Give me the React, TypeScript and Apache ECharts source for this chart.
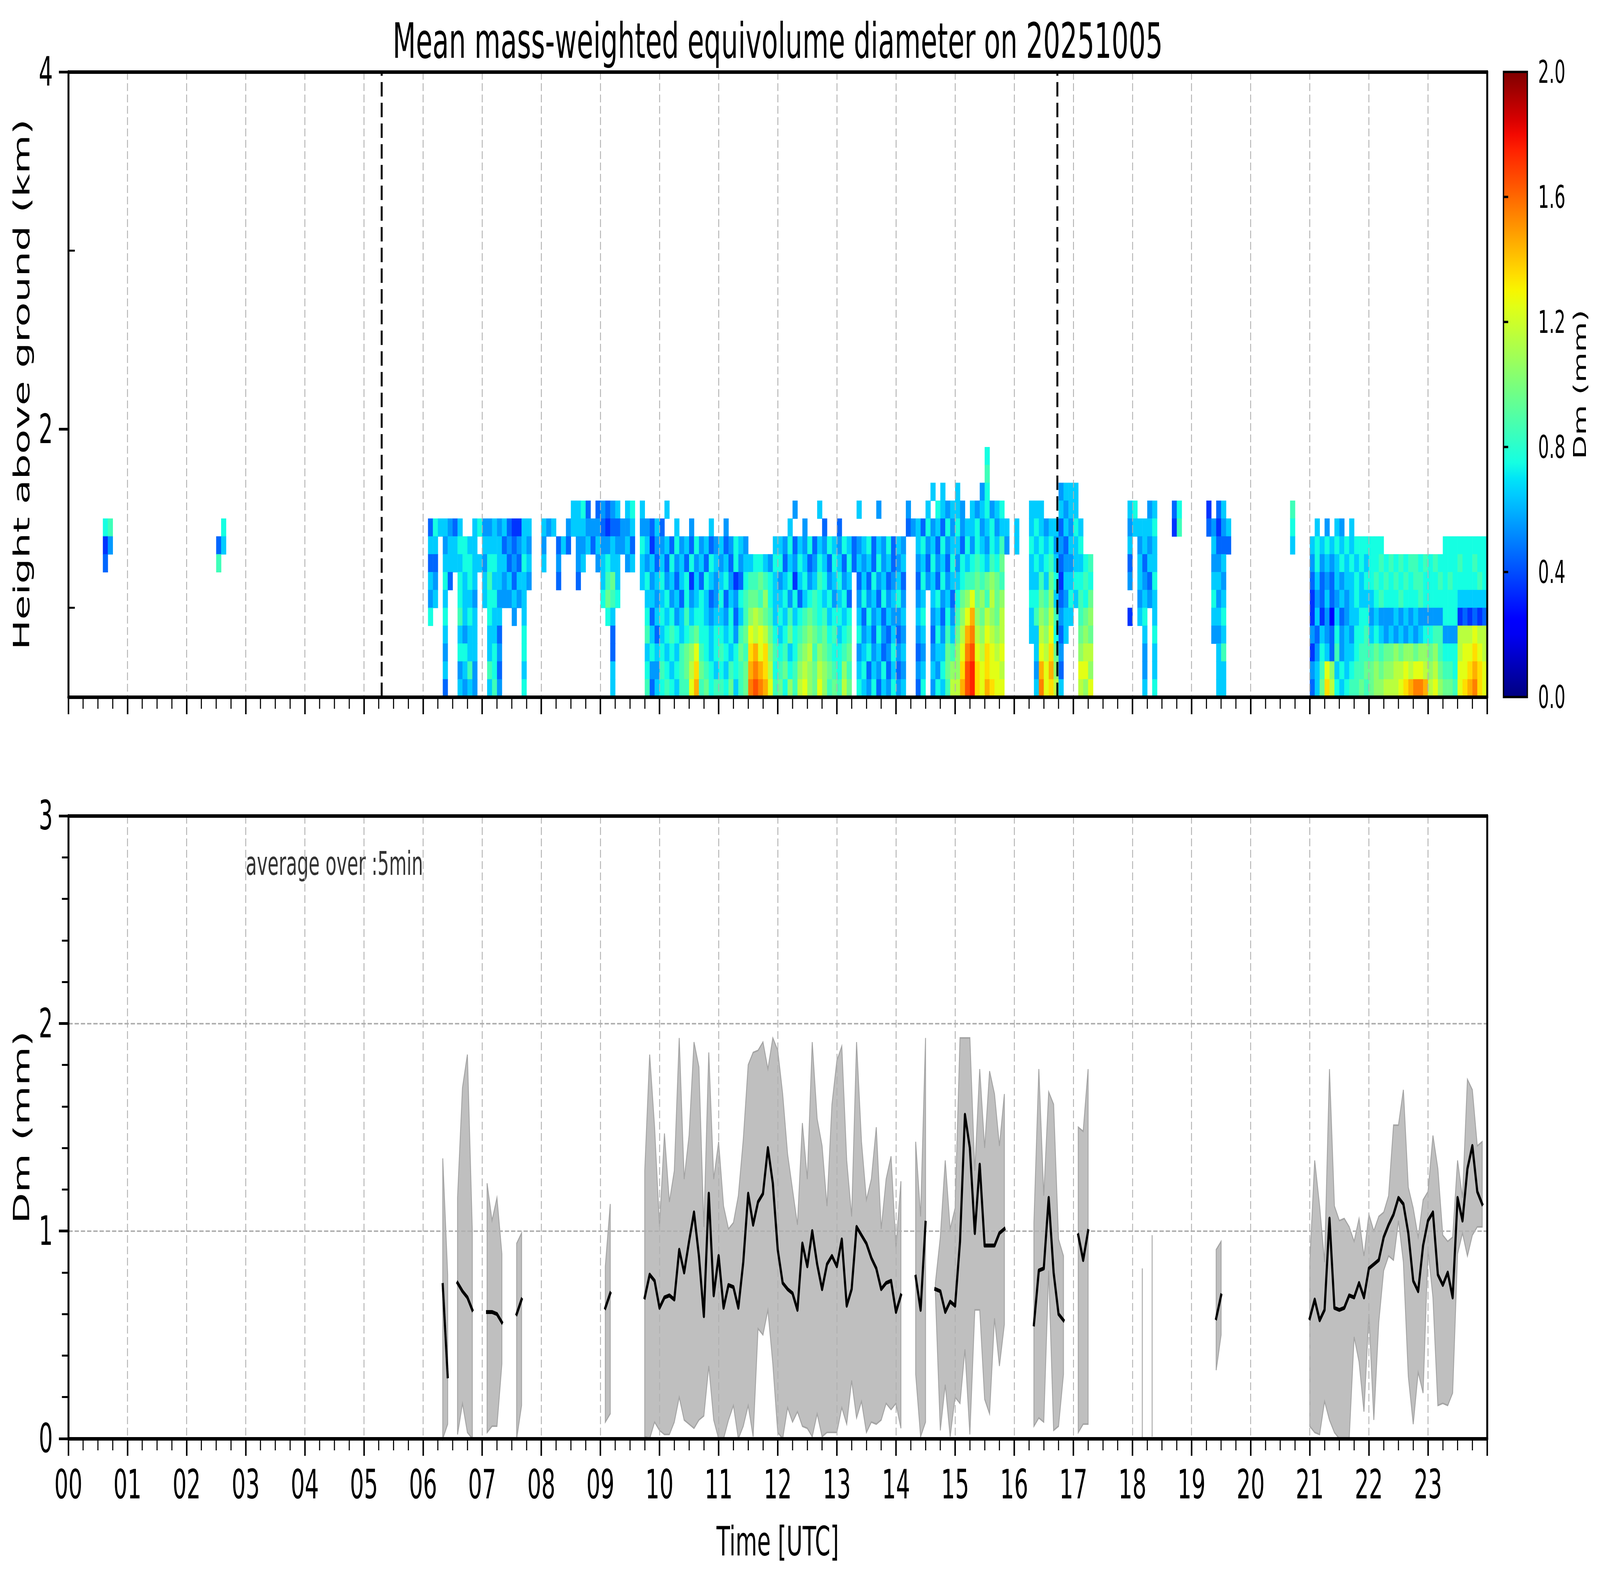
import { useEffect, useRef } from 'react';
import * as echarts from 'echarts';

const FONT = 'DejaVu Sans';

// reference figure size and layout (px); the figure is fitted to the window
const REF_W = 7442;
const REF_H = 4031;
const PLOT_LEFT = 318;
const PLOT_W = 6599;
const TOP_Y = 184;
const TOP_H = 1600;
const BOT_Y = 2088;
const BOT_H = 1594;
const CB_LEFT = 6993;
const CB_W = 111;

const titleText = 'Mean mass-weighted equivolume diameter on 20251005';

// sunrise / sunset markers (hours UTC)
const sunHours = [5.3, 16.73];

// colorbar range (mm)
const cbRange = [0, 2];

// Dm curtain: cells of 5 min x 100 m. Each list gives, for one height bin,
// [hour, 12 cells]. '.' = no data, '1'..'9' = 0.1..0.9 mm bin, 'A'..'J' = 1.0..1.9 mm bin
const heightStep = 0.1;
const timeStep = 5 / 60;

const dmH18 = [[15, '......7.....']];
const dmH17 = [[15, '......8.....']];
const dmH16 = [[14, '.......6.6..'], [15, '6....57.....'], [16, '.........566'], [17, '6...........']];
const dmH15 = [[8, '......6674.4'], [9, '5456.67.6...'], [10, '.6..........'], [12, '...5....6...'], [13, '....6...5...'], [14, '..5...6.7656'], [15, '65.6567567..'], [16, '...666...656'], [17, '6..........6'], [18, '7..56...47..'], [19, '...3.46.....'], [20, '........8...']];
const dmH14 = [[0, '.......78...'], [2, '.......7....'], [6, '.4766546..67'], [7, '5565643366..'], [8, '656..5666555'], [9, '4344556.5546'], [10, '4..6..5...6.'], [11, '.5..........'], [12, '..6..5...4..'], [13, '4...........'], [14, '..4564756475'], [15, '75667567566.'], [16, '6..676566465'], [17, '76.........5'], [18, '66667...38..'], [19, '...45356....'], [20, '........7...'], [21, '.6.5.65.6...']];
const dmH13 = [[0, '.......35...'], [2, '......46....'], [6, '.66.5667766.'], [7, '6666454565..'], [8, '5..464.55646'], [9, '5565564.7635'], [10, '564756475645'], [11, '645765.....6'], [12, '657465746576'], [13, '576456746574'], [14, '65..67564756'], [15, '64757657685.'], [16, '6..767675546'], [17, '67.........6'], [18, '.5656.......'], [19, '....6444....'], [20, '........6...'], [21, '676767676777'], [22, '777.........'], [23, '...777777777']];
const dmH12 = [[0, '.......4....'], [2, '......8.....'], [6, '.44.66667766'], [7, '5776645476..'], [8, '6..5...56..5'], [9, '6766.56.6564'], [10, '647564756476'], [11, '564756677657'], [12, '746576457647'], [13, '647465647564'], [14, '56..56475647'], [15, '5767876879..'], [16, '...676786455'], [17, '6678.......4'], [18, '.6466.......'], [19, '....556.....'], [21, '575656767676'], [22, '778787878878'], [23, '787777877877']];
const dmH11 = [[6, '.65.74.7676.'], [7, '6866564665..'], [8, '...4...4....'], [9, '6896....6756'], [10, '756467364765'], [11, '675347889876'], [12, '567367568756'], [13, '756.46475645'], [14, '64..47564756'], [15, '6788989A98..'], [16, '...668697366'], [17, '7787.......5'], [18, '.6547.......'], [19, '....665.....'], [21, '464546566767'], [22, '787878787887'], [23, '778787777787']];
const dmH10 = [[6, '.56.6..7665.'], [7, '677555656...'], [9, '7987.....665'], [10, '675647567645'], [11, '746578998A76'], [12, '675746787675'], [13, '674.57564756'], [14, '75..56.67564'], [15, '79AC9A8B9A..'], [16, '...7798A6457'], [17, '6879........'], [18, '.5656.......'], [19, '....756.....'], [21, '354645656766'], [22, '678777877787'], [23, '777777666666']];
const dmH09 = [[6, '.7..7..8676.'], [7, '.766..5.6...'], [9, '.76......746'], [10, '767568677656'], [11, '657468ABA986'], [12, '768678987867'], [13, '767.64756465'], [14, '56..67.56475'], [15, '8ACEA9BA9B..'], [16, '...68A9B8566'], [17, '.89A.......3'], [18, '.67.6.......'], [19, '....667.....'], [21, '363526456677'], [22, '565556565655'], [23, '555777343434']];
const dmH08 = [[6, '....6..6566.'], [7, '.664....7...'], [9, '..4......864'], [10, '678767897767'], [11, '767589CBCB97'], [12, '679789A98978'], [13, '678.75647546'], [14, '45..56.47586'], [15, '9BEFBACBAB..'], [16, '...66BAC746.'], [17, '.9A9........'], [18, '..6.7.......'], [19, '....556.....'], [21, '546547565778'], [22, '676565656567'], [23, '788555BBBCBB']];
const dmH07 = [[6, '....5..7766.'], [7, '.675....7...'], [9, '..4......676'], [10, '767689AC8767'], [11, '876798DECDA8'], [12, '78679AB8A987'], [13, '789.56756457'], [14, '56..45.56698'], [15, 'ACFGCBDCBC..'], [16, '....6CBD95..'], [17, '.ABB........'], [18, '..5.6.......'], [19, '.....68.....'], [21, '357648566788'], [22, '89899A9AA9AA'], [23, '9A8777BCCDCB']];
const dmH06 = [[6, '....6..5685.'], [7, '.874....6...'], [9, '..6......755'], [10, '876789BD9876'], [11, '768789EFEDB7'], [12, '8978ABA9BA98'], [13, '7A8.67465746'], [14, '45..56.6579A'], [15, 'ADGHDCDCCB..'], [16, '....5ECEA4..'], [17, '.CCA........'], [18, '..5.6.......'], [19, '.....66.....'], [21, '568CA6767889'], [22, '9A9AABBCBCCB'], [23, 'AB9887CCDEDC']];
const dmH05 = [[6, '....4..6565.'], [7, '.685....7...'], [9, '..6......846'], [10, '787688CE8978'], [11, '879689FGFEC8'], [12, '97A8BCA9CA89'], [13, '8B9.76574657'], [14, '56..47.5768B'], [15, 'BEGHDCEDCC..'], [16, '....6FCDB6..'], [17, '.BAC........'], [18, '..6.7.......'], [19, '.....66.....'], [21, '469DB7678898'], [22, '9AABBBCDEFFE'], [23, 'BCA998CDEFDC']];

const curtainRows: any[] = [
  [1.8, dmH18], [1.7, dmH17], [1.6, dmH16], [1.5, dmH15], [1.4, dmH14], [1.3, dmH13], [1.2, dmH12],
  [1.1, dmH11], [1.0, dmH10], [0.9, dmH09], [0.8, dmH08], [0.7, dmH07], [0.6, dmH06], [0.5, dmH05],
];

// 5-min averaged Dm: start of each contiguous run, mean, min and max (mm)
const segStart = ['06:20', '06:35', '07:05', '07:35', '09:05', '09:45', '14:20', '14:40', '16:20', '17:05', '18:10', '18:20', '19:25', '21:00'];

const dmMean = [
  [0.74, 0.30],
  [0.75, 0.71, 0.68, 0.62],
  [0.61, 0.61, 0.60, 0.56],
  [0.60, 0.67],
  [0.63, 0.70],
  [0.68, 0.79, 0.76, 0.63, 0.68, 0.69, 0.67, 0.91, 0.80, 0.95, 1.09, 0.88, 0.59, 1.18, 0.69, 0.88, 0.63, 0.74, 0.73, 0.63,
    0.85, 1.18, 1.03, 1.14, 1.18, 1.40, 1.23, 0.91, 0.75, 0.72, 0.70, 0.62, 0.94, 0.83, 1.00, 0.84, 0.72, 0.84, 0.88, 0.83,
    0.96, 0.64, 0.72, 1.02, 0.98, 0.94, 0.87, 0.82, 0.72, 0.75, 0.76, 0.61, 0.69],
  [0.78, 0.62, 1.04],
  [0.72, 0.71, 0.61, 0.66, 0.64, 0.95, 1.56, 1.40, 0.99, 1.32, 0.93, 0.93, 0.93, 0.99, 1.01],
  [0.55, 0.81, 0.82, 1.16, 0.80, 0.60, 0.57],
  [0.98, 0.86, 1.00],
  [],
  [],
  [0.58, 0.69],
  [0.58, 0.67, 0.57, 0.62, 1.06, 0.63, 0.62, 0.63, 0.69, 0.68, 0.75, 0.68, 0.82, 0.84, 0.86, 0.97, 1.03, 1.08,
    1.16, 1.13, 0.99, 0.76, 0.71, 0.93, 1.05, 1.09, 0.79, 0.74, 0.80, 0.68, 1.16, 1.05, 1.30, 1.41, 1.19, 1.13],
];

const dmUpper = [
  [1.35, 0.79],
  [1.16, 1.69, 1.85, 1.00],
  [1.23, 1.05, 1.16, 0.89],
  [0.94, 0.99],
  [0.83, 1.13],
  [1.29, 1.85, 1.50, 1.02, 1.47, 1.14, 1.29, 1.93, 1.25, 1.46, 1.91, 1.79, 1.02, 1.86, 1.25, 1.43, 1.12, 1.01, 1.04, 1.17,
    1.44, 1.80, 1.86, 1.87, 1.91, 1.78, 1.93, 1.87, 1.66, 1.37, 1.20, 1.03, 1.52, 1.25, 1.91, 1.54, 1.41, 1.12, 1.61, 1.82,
    1.89, 1.34, 1.07, 1.91, 1.43, 1.15, 1.25, 1.50, 1.01, 1.25, 1.36, 0.92, 1.24],
  [1.43, 1.07, 1.93],
  [0.75, 0.97, 1.34, 1.01, 1.11, 1.93, 1.93, 1.93, 1.29, 1.78, 1.40, 1.77, 1.66, 1.41, 1.66],
  [1.04, 1.78, 1.17, 1.67, 1.61, 0.96, 0.88],
  [1.50, 1.48, 1.78],
  [0.82],
  [0.98],
  [0.91, 0.95],
  [0.85, 1.34, 1.12, 0.85, 1.78, 1.12, 1.05, 1.06, 1.02, 0.95, 1.06, 0.88, 1.08, 1.00, 1.07, 1.09, 1.17, 1.51,
    1.51, 1.68, 1.21, 1.11, 0.97, 1.15, 1.19, 1.46, 1.30, 0.98, 0.95, 0.97, 1.34, 1.16, 1.73, 1.68, 1.41, 1.43],
];

const dmLower = [
  [0.00, 0.07],
  [0.02, 0.17, 0.03, 0.00],
  [0.03, 0.06, 0.06, 0.36],
  [0.00, 0.16],
  [0.08, 0.12],
  [0.01, 0.00, 0.08, 0.04, 0.02, 0.02, 0.08, 0.20, 0.09, 0.07, 0.05, 0.09, 0.11, 0.35, 0.09, 0.00, 0.00, 0.09, 0.16, 0.00,
    0.06, 0.16, 0.01, 0.53, 0.50, 0.62, 0.36, 0.03, 0.00, 0.15, 0.08, 0.13, 0.06, 0.05, 0.01, 0.12, 0.01, 0.03, 0.03, 0.03,
    0.15, 0.07, 0.28, 0.10, 0.18, 0.03, 0.08, 0.07, 0.09, 0.17, 0.14, 0.17, 0.05],
  [0.31, 0.01, 0.08],
  [0.70, 0.04, 0.26, 0.01, 0.20, 0.17, 0.43, 0.02, 0.62, 0.62, 0.19, 0.12, 0.58, 0.35, 0.55],
  [0.06, 0.10, 0.08, 0.81, 0.04, 0.06, 0.31],
  [0.03, 0.07, 0.07],
  [0.00],
  [0.01],
  [0.33, 0.50],
  [0.06, 0.03, 0.02, 0.18, 0.09, 0.03, 0.00, 0.00, 0.00, 0.49, 0.37, 0.13, 0.60, 0.09, 0.56, 0.81, 0.88, 0.86,
    1.05, 0.85, 0.30, 0.07, 0.32, 0.22, 0.91, 0.68, 0.16, 0.17, 0.16, 0.22, 0.89, 0.99, 0.88, 0.98, 1.02, 1.02],
];

const annotationText = 'average over :5min';
const annotationPos = [3, 2.77];

// matplotlib "jet" colormap
const JET_R = [[0, 0], [0.35, 0], [0.66, 1], [0.89, 1], [1, 0.5]];
const JET_G = [[0, 0], [0.125, 0], [0.375, 1], [0.64, 1], [0.91, 0], [1, 0]];
const JET_B = [[0, 0.5], [0.11, 1], [0.34, 1], [0.65, 0], [1, 0]];

function channel(pts: number[][], t: number) {
  for (let i = 1; i < pts.length; i++) {
    if (t <= pts[i][0]) {
      const [x0, y0] = pts[i - 1];
      const [x1, y1] = pts[i];
      return y0 + ((t - x0) / (x1 - x0)) * (y1 - y0);
    }
  }
  return pts[pts.length - 1][1];
}

function jet(t: number) {
  const c = (p: number[][]) => Math.round(255 * Math.max(0, Math.min(1, channel(p, t))));
  return `rgb(${c(JET_R)},${c(JET_G)},${c(JET_B)})`;
}

const jetColors = Array.from({ length: 41 }, (_, i) => jet(i / 40));

// cell code -> centre of its 0.1 mm bin
function codeToDm(ch: string) {
  const n = ch <= '9' ? Number(ch) : ch.charCodeAt(0) - 55;
  return (n + 0.5) / 10;
}

function toHour(s: string) {
  const [h, m] = s.split(':').map(Number);
  return h + m / 60;
}

export default function App() {
  const chartRef = useRef<HTMLDivElement>(null);

  // the figure keeps its own size and is stretched onto the window
  const fitX = window.innerWidth ? window.innerWidth / REF_W : 1;
  const fitY = window.innerHeight ? window.innerHeight / REF_H : 1;

  useEffect(() => {
    const el = chartRef.current;
    if (!el) return;
    const chart = echarts.init(el, null, { renderer: 'svg' });

    // curtain cells
    const heatData: number[][] = [];
    curtainRows.forEach(([h0, groups]: [number, [number, string][]]) => {
      groups.forEach(([hour, cells]) => {
        for (let k = 0; k < 12; k++) {
          const ch = cells[k];
          if (ch && ch !== '.') heatData.push([hour + k * timeStep, h0, codeToDm(ch)]);
        }
      });
    });

    const segHours = segStart.map(toHour);
    const segData = segHours.map((t, i) => [t, 0, i]);

    const black = '#000';
    const gridLine = { show: true, showMinLine: false, showMaxLine: false, lineStyle: { color: '#b0b0b0', width: 4, type: [20, 9] } };
    const majorTick = { show: true, length: 44, lineStyle: { color: black, width: 7 } };
    const minorTickStyle = { length: 30, lineStyle: { color: black, width: 5 } };
    const spine = { show: true, onZero: false, lineStyle: { color: black, width: 9 } };
    const tickFont = { fontSize: 103, color: black, fontFamily: FONT };
    const nameFont = { fontSize: 103, color: black, fontFamily: FONT };

    const timeAxis = (gridIndex: number, labels: boolean) => ({
      type: 'value', gridIndex, min: 0, max: 24, interval: 1, z: 3,
      axisLine: spine, axisTick: majorTick,
      minorTick: { show: true, splitNumber: 4, ...minorTickStyle },
      splitLine: gridLine,
      axisLabel: labels
        ? { show: true, ...tickFont, margin: 66, formatter: (v: number) => (v >= 24 ? '' : String(v).padStart(2, '0')) }
        : { show: false },
      ...(labels ? { name: 'Time [UTC]', nameLocation: 'middle', nameGap: 212, nameTextStyle: nameFont } : {}),
    });

    // top / right spines
    const edgeAxis = (gridIndex: number, position: string, min: number, max: number) => ({
      type: 'value', gridIndex, position, min, max, z: 10,
      axisLine: spine, axisTick: { show: false }, axisLabel: { show: false }, splitLine: { show: false },
    });

    const option: any = {
      animation: false,
      backgroundColor: '#fff',
      textStyle: { fontFamily: FONT },
      graphic: [
        {
          type: 'text', x: PLOT_LEFT + PLOT_W / 2, y: 105,
          style: { text: titleText, fontSize: 125, fontFamily: FONT, fill: black, textAlign: 'center', textVerticalAlign: 'middle' },
        },
      ],
      grid: [
        { left: PLOT_LEFT, top: TOP_Y, width: PLOT_W, height: TOP_H, outerBoundsMode: 'none' },
        { left: PLOT_LEFT, top: BOT_Y, width: PLOT_W, height: BOT_H, outerBoundsMode: 'none' },
        { left: CB_LEFT, top: TOP_Y, width: CB_W, height: TOP_H, outerBoundsMode: 'none' },
      ],
      xAxis: [
        timeAxis(0, false),
        timeAxis(1, true),
        { type: 'value', gridIndex: 2, min: 0, max: 1, show: false },
        edgeAxis(0, 'top', 0, 24),
        edgeAxis(1, 'top', 0, 24),
      ],
      yAxis: [
        {
          type: 'value', gridIndex: 0, min: 0.5, max: 4, z: 4,
          axisLine: spine,
          axisTick: { ...majorTick, customValues: [2, 4] },
          axisLabel: { show: true, ...tickFont, margin: 72, customValues: [2, 4] },
          splitLine: gridLine,
          name: 'Height above ground (km)', nameLocation: 'middle', nameGap: 166, nameTextStyle: nameFont,
        },
        {
          type: 'value', gridIndex: 0, min: 0.5, max: 4, z: 4,
          axisLine: { show: false },
          axisTick: { show: true, ...minorTickStyle, customValues: [1, 3] },
          axisLabel: { show: false }, splitLine: { show: false },
        },
        {
          type: 'value', gridIndex: 1, min: 0, max: 3, interval: 1, z: 4,
          axisLine: spine, axisTick: majorTick,
          minorTick: { show: true, splitNumber: 5, ...minorTickStyle },
          axisLabel: { show: true, ...tickFont, margin: 72 },
          splitLine: gridLine,
          name: 'Dm (mm)', nameLocation: 'middle', nameGap: 166, nameTextStyle: nameFont,
        },
        {
          type: 'value', gridIndex: 2, position: 'right', min: cbRange[0], max: cbRange[1], interval: 0.4, z: 4,
          axisLine: { show: false },
          axisTick: { show: true, length: 22, lineStyle: { color: black, width: 6 } },
          axisLabel: { show: true, fontSize: 80, color: black, fontFamily: FONT, margin: 50, formatter: (v: number) => v.toFixed(1) },
          splitLine: { show: false },
          name: 'Dm (mm)', nameLocation: 'middle', nameRotate: 90, nameGap: 204,
          nameTextStyle: { fontSize: 80, color: black, fontFamily: FONT },
        },
        edgeAxis(0, 'right', 0.5, 4),
        edgeAxis(1, 'right', 0, 3),
      ],
      visualMap: {
        type: 'continuous', show: false, min: cbRange[0], max: cbRange[1], dimension: 2, seriesIndex: 0,
        inRange: { color: jetColors },
      },
      series: [
        {
          type: 'custom', name: 'curtain', xAxisIndex: 0, yAxisIndex: 0, clip: true, z: 2,
          encode: { x: 0, y: 1 }, data: heatData,
          renderItem: (_p: any, api: any) => {
            const t = api.value(0);
            const h = api.value(1);
            const a = api.coord([t, h + heightStep]);
            const b = api.coord([t + timeStep, h]);
            return {
              type: 'rect',
              shape: { x: a[0], y: a[1], width: b[0] - a[0] + 1, height: b[1] - a[1] + 1 },
              style: { fill: api.visual('color') },
            };
          },
        },
        ...sunHours.map((t) => ({
          type: 'line', xAxisIndex: 0, yAxisIndex: 0, data: [[t, 0.5], [t, 4]],
          symbol: 'none', silent: true, z: 5,
          lineStyle: { color: black, width: 9, type: [37, 16] },
        })),
        {
          type: 'custom', name: 'range', xAxisIndex: 1, yAxisIndex: 2, z: 2,
          encode: { x: 0, y: 1 }, data: segData,
          renderItem: (_p: any, api: any) => {
            const i = api.value(2);
            const t0 = segHours[i];
            const up = dmUpper[i].map((v, k) => api.coord([t0 + k * timeStep, v]));
            const lo = dmLower[i].map((v, k) => api.coord([t0 + k * timeStep, v])).reverse();
            return {
              type: 'polygon',
              shape: { points: up.concat(lo) },
              style: { fill: '#bfbfbf', stroke: '#a3a3a3', lineWidth: 4 },
            };
          },
        },
        {
          type: 'custom', name: 'mean', xAxisIndex: 1, yAxisIndex: 2, z: 5,
          encode: { x: 0, y: 1 }, data: segData,
          renderItem: (_p: any, api: any) => {
            const i = api.value(2);
            const t0 = segHours[i];
            if (dmMean[i].length < 2) return { type: 'group', children: [] };
            const pts = dmMean[i].map((v, k) => api.coord([t0 + k * timeStep, v]));
            return {
              type: 'polyline',
              shape: { points: pts },
              style: { stroke: black, lineWidth: 10, fill: null, lineJoin: 'round', lineCap: 'square' },
            };
          },
        },
        {
          type: 'scatter', xAxisIndex: 1, yAxisIndex: 2, data: [annotationPos],
          symbolSize: 1, silent: true, itemStyle: { color: 'rgba(0,0,0,0)' },
          label: { show: true, position: 'right', distance: 0, formatter: annotationText, fontSize: 84, color: black, fontFamily: FONT },
        },
        {
          type: 'custom', name: 'colorbar', xAxisIndex: 2, yAxisIndex: 3, z: 2,
          encode: { x: 0, y: 1 }, data: [[0, cbRange[0]]],
          renderItem: (_p: any, api: any) => {
            const a = api.coord([0, cbRange[0]]);
            const b = api.coord([1, cbRange[1]]);
            return {
              type: 'rect',
              shape: { x: a[0], y: b[1], width: b[0] - a[0], height: a[1] - b[1] },
              style: {
                fill: new echarts.graphic.LinearGradient(
                  0, 1, 0, 0,
                  jetColors.map((c, i) => ({ offset: i / (jetColors.length - 1), color: c }))
                ),
                stroke: black,
                lineWidth: 6,
              },
            };
          },
        },
      ],
    };

    chart.setOption(option);
    return () => {
      chart.dispose();
    };
  }, []);

  return (
    <div
      ref={chartRef}
      style={{
        position: 'fixed', left: 0, top: 0, width: REF_W, height: REF_H, background: '#fff',
        transform: `scale(${fitX}, ${fitY})`, transformOrigin: '0 0',
      }}
    />
  );
}
